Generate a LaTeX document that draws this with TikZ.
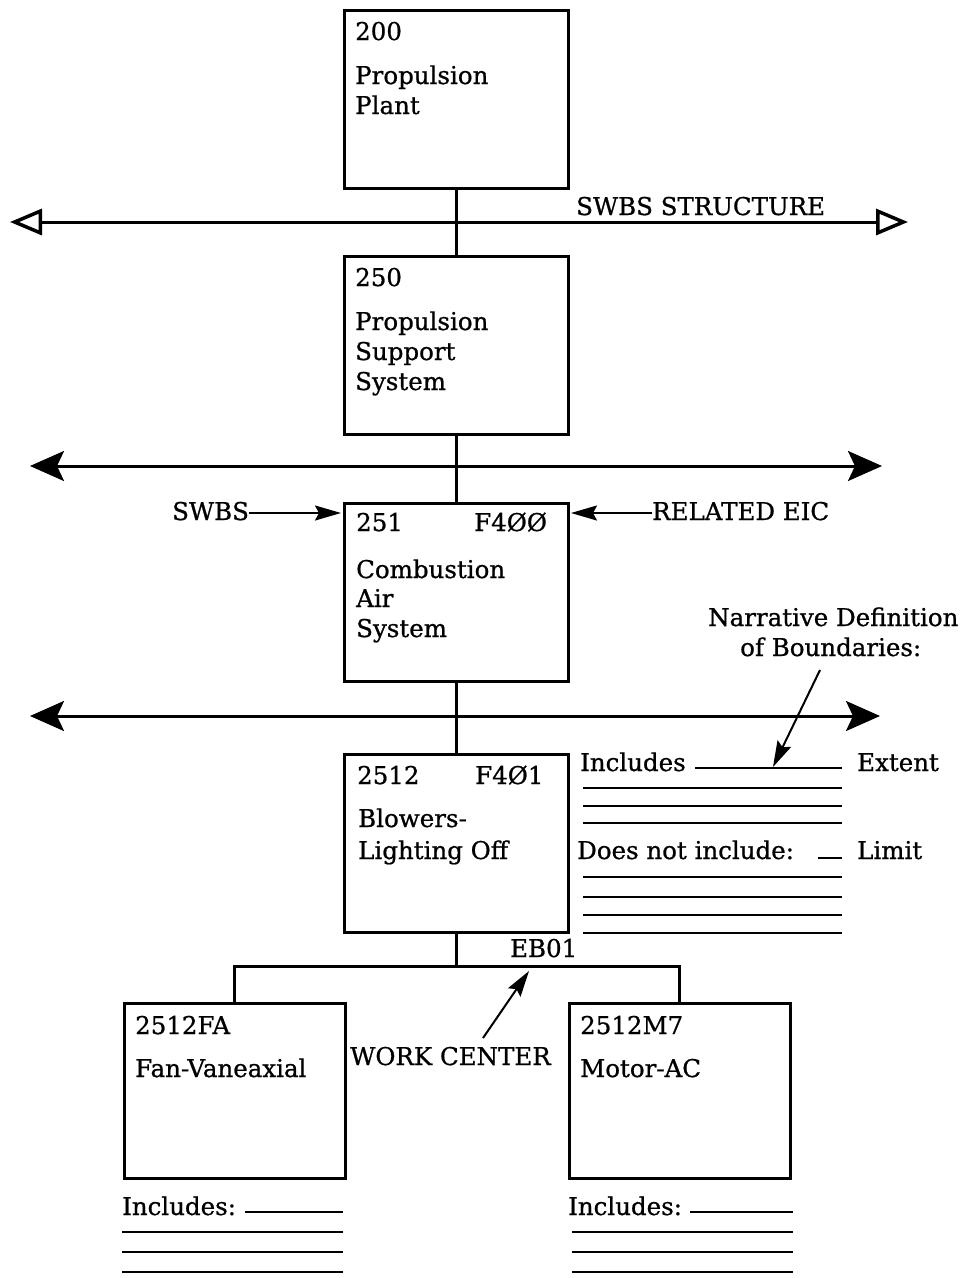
\documentclass[tikz,border=0pt]{standalone}
\usepackage{fontspec}
\setmainfont{DejaVu Serif}[FakeBold=0.8]
\usetikzlibrary{arrows.meta}
\begin{document}
\begin{tikzpicture}[x=1pt,y=-1pt,
  box/.style={draw, line width=3pt, inner sep=0, outer sep=0, anchor=north west},
  bigbox/.style={box, minimum width=224pt, minimum height=178pt},
  smallbox/.style={box, minimum width=221pt, minimum height=175pt},
  txt/.style={anchor=base west, inner sep=0, font=\fontsize{24.5}{28}\selectfont},
  conn/.style={line width=3pt},
  rule/.style={line width=2pt},
  openarr/.style={line width=3pt, {Triangle[open,length=32pt,width=26pt,line width=3.5pt]}-{Triangle[open,length=32pt,width=26pt,line width=3.5pt]}},
  fillarr/.style={line width=3pt, {Stealth[length=34pt,width=30pt,inset=7pt]}-{Stealth[length=34pt,width=30pt,inset=7pt]}},
  ptr/.style={line width=2pt, -{Stealth[length=26pt,width=15pt,inset=4pt]}}
]
\useasboundingbox (0,0) rectangle (976,1278);
\fill[white] (0,0) rectangle (976,1278);

% boxes
\node[bigbox] (b200) at (344,10) {};
\node[bigbox] (b250) at (344,256) {};
\node[bigbox] (b251) at (344,503) {};
\node[bigbox] (b2512) at (344,754) {};
\node[smallbox] (bFA) at (124,1003) {};
\node[smallbox] (bM7) at (569,1003) {};

% box texts
\node[txt] (t200) at (355,40) {200};
\node[txt] (t200a) at (355,84) {Propulsion};
\node[txt] (t200b) at (355,114) {Plant};

\node[txt] (t250) at (355,286) {250};
\node[txt] (t250a) at (355,330) {Propulsion};
\node[txt] (t250b) at (355,360) {Support};
\node[txt] (t250c) at (355,390) {System};

\node[txt] (t251) at (356,531) {251};
\node[txt] (t251e) at (474,531) {F4ØØ};
\node[txt] (t251a) at (356,578) {Combustion};
\node[txt] (t251b) at (356,607) {Air};
\node[txt] (t251c) at (356,637) {System};

\node[txt] (t2512) at (357,784) {2512};
\node[txt] (t2512e) at (475,784) {F4Ø1};
\node[txt] (t2512a) at (358,827) {Blowers-};
\node[txt] (t2512b) at (358,859) {Lighting Off};

\node[txt] (tFA) at (135,1034) {2512FA};
\node[txt] (tFAa) at (135,1077) {Fan-Vaneaxial};
\node[txt] (tM7) at (580,1034) {2512M7};
\node[txt] (tM7a) at (580,1077) {Motor-AC};

% vertical connectors
\draw[conn] (b200.south) -- (b250.north);
\draw[conn] (b250.south) -- (b251.north);
\draw[conn] (b251.south) -- (b2512.north);
\coordinate (jn) at (456,966);
\draw[conn] (b2512.south) -- (jn);
\draw[conn] (bFA.north) |- (jn) -| (bM7.north);

% horizontal arrows
\coordinate (h1l) at (10,222);
\coordinate (h1r) at (908,222);
\draw[openarr] (h1l) -- (h1r);
\node[txt] (tswbs) at (576,215) {SWBS STRUCTURE};

\coordinate (h2l) at (30,466);
\coordinate (h2r) at (882,466);
\draw[fillarr] (h2l) -- (h2r);

\coordinate (h3l) at (30,716);
\coordinate (h3r) at (880,716);
\draw[fillarr] (h3l) -- (h3r);

% SWBS / related EIC
\node[txt] (lswbs) at (172,520) {SWBS};
\node[txt] (leic) at (652,520) {RELATED EIC};
\coordinate (aswbs) at (341,513);
\coordinate (aeic) at (571,513);
\draw[ptr] (lswbs.east |- aswbs) -- (aswbs);
\draw[ptr] (leic.west |- aeic) -- (aeic);

% narrative
\node[txt] (narr1) at (708,626) {Narrative Definition};
\node[txt] (narr2) at (740,656) {of Boundaries:};
\coordinate (nstart) at (820,670);
\coordinate (ntip) at (773,767);
\draw[ptr] (nstart) -- (ntip);

\node[txt] (inc) at (580,771) {Includes};
\node[txt] (ext) at (857,771) {Extent};
\draw[rule] (695,768) -- (842,768);
\foreach \y in {788,806,823} \draw[rule] (583,\y) -- (842,\y);
\node[txt] (dni) at (577,859) {Does not include:};
\node[txt] (lim) at (857,859) {Limit};
\draw[rule] (818,858) -- (842,858);
\foreach \y in {877,897,915,933} \draw[rule] (583,\y) -- (842,\y);

% work center
\node[txt] (eb) at (510,957) {EB01};
\node[txt] (wc) at (350,1065) {WORK CENTER};
\coordinate (wcs) at (483,1038);
\coordinate (wct) at (529,971);
\draw[ptr] (wcs) -- (wct);

% includes below
\node[txt] (incFA) at (122,1215) {Includes:};
\draw[rule] (245,1212) -- (343,1212);
\foreach \y in {1232,1252,1272} \draw[rule] (122,\y) -- (343,\y);
\node[txt] (incM7) at (568,1215) {Includes:};
\draw[rule] (690,1212) -- (793,1212);
\foreach \y in {1232,1252,1272} \draw[rule] (572,\y) -- (793,\y);
\end{tikzpicture}
\end{document}
